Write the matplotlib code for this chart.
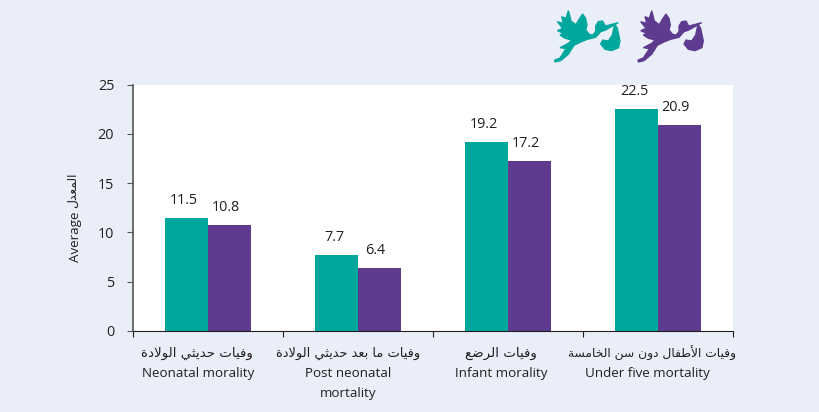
import matplotlib
matplotlib.use("Agg")
import matplotlib.pyplot as plt
import numpy as np
from matplotlib.patches import Polygon

categories_en = ["Neonatal morality", "Post neonatal\nmortality", "Infant morality", "Under five mortality"]
categories_ar = ["وفيات حديثي الولادة", "وفيات ما بعد حديثي الولادة", "وفيات الرضع", "وفيات الأطفال دون سن الخامسة"]
teal_values = [11.5, 7.7, 19.2, 22.5]
purple_values = [10.8, 6.4, 17.2, 20.9]
yticks = [0, 5, 10, 15, 20, 25]
ylabel_en = "Average"
ylabel_ar = "المعدل"

BG = "#E9EEF8"
TEAL = "#00A79D"
PURPLE = "#5F3B8F"
INK = "#231F20"
FONT = ["Open Sans", "DejaVu Sans"]

BASE = {"ء": 0xFE80, "أ": 0xFE83, "ا": 0xFE8D, "ب": 0xFE8F, "ة": 0xFE93, "ت": 0xFE95, "ث": 0xFE99,
        "ج": 0xFE9D, "ح": 0xFEA1, "خ": 0xFEA5, "د": 0xFEA9, "ذ": 0xFEAB, "ر": 0xFEAD, "ز": 0xFEAF,
        "س": 0xFEB1, "ش": 0xFEB5, "ص": 0xFEB9, "ض": 0xFEBD, "ط": 0xFEC1, "ظ": 0xFEC5, "ع": 0xFEC9,
        "غ": 0xFECD, "ف": 0xFED1, "ق": 0xFED5, "ك": 0xFED9, "ل": 0xFEDD, "م": 0xFEE1, "ن": 0xFEE5,
        "ه": 0xFEE9, "و": 0xFEED, "ى": 0xFEEF, "ي": 0xFEF1}
RIGHT_ONLY = set("أاةدذرزو")
LAM_ALEF = {"ا": 0xFEFB, "أ": 0xFEF7}


def shape_arabic(text):
    """Turn logical Arabic text into joined presentation forms in visual order."""
    out = []
    for word in text.split(" "):
        letters, i = [], 0
        while i < len(word):
            if word[i] == "ل" and i + 1 < len(word) and word[i + 1] in LAM_ALEF:
                letters.append(("ل" + word[i + 1]))
                i += 2
            else:
                letters.append(word[i])
                i += 1
        glyphs = []
        for k, ch in enumerate(letters):
            joins_prev = k > 0 and letters[k - 1][-1] not in RIGHT_ONLY
            if len(ch) == 2:
                glyphs.append(chr(LAM_ALEF[ch[1]] + (1 if joins_prev else 0)))
                continue
            joins_next = k + 1 < len(letters) and ch not in RIGHT_ONLY
            base = BASE[ch]
            if ch in RIGHT_ONLY:
                glyphs.append(chr(base + (1 if joins_prev else 0)))
            elif joins_prev and joins_next:
                glyphs.append(chr(base + 3))
            elif joins_next:
                glyphs.append(chr(base + 2))
            elif joins_prev:
                glyphs.append(chr(base + 1))
            else:
                glyphs.append(chr(base))
        out.append("".join(reversed(glyphs)))
    return " ".join(reversed(out))


W, H = 819, 412
PT = 0.72  # points per pixel at dpi 100
fig = plt.figure(figsize=(W / 100, H / 100), dpi=100, facecolor=BG)
ax = fig.add_axes([133 / W, 1 - 331 / H, 600 / W, 246.5 / H], facecolor="white")

x = np.arange(len(teal_values))
bw = 43 / 150
b1 = ax.bar(x - bw / 2, teal_values, bw, color=TEAL)
b2 = ax.bar(x + bw / 2, purple_values, bw, color=PURPLE)
for bars, shift in ((b1, -2.5), (b2, -4.0)):
    for ann in ax.bar_label(bars, fmt="%.1f", padding=7.2, fontsize=10.4, color=INK, family=FONT):
        ann.xyann = (shift * PT, ann.xyann[1])

ax.set_xlim(-0.5, 3.5)
ax.set_ylim(0, 25)
ax.set_yticks(yticks)
ax.set_xticks(np.arange(-0.5, 4, 1))
ax.set_xticklabels([])
ax.tick_params(axis="y", length=4.5, width=0.8, color="#555555", pad=9, labelsize=10.4, labelcolor=INK)
ax.tick_params(axis="x", length=4, width=0.8, color=INK)
for lab in ax.get_yticklabels():
    lab.set_family(FONT)
for s in ("top", "right"):
    ax.spines[s].set_visible(False)
ax.spines["left"].set_color("#555555")
ax.spines["left"].set_linewidth(1.2)
ax.spines["bottom"].set_color(INK)
ax.spines["bottom"].set_linewidth(0.8)

ar_shift_px = (-11, -10, -7, -6)
en_shift_px = (-10, -10, -7, -11)
ar_sizes = (9.6, 9.35, 9.6, 8.8)
for xi, ar, en, sa, se, fs in zip(x, categories_ar, categories_en, ar_shift_px, en_shift_px, ar_sizes):
    ax.annotate(shape_arabic(ar), (xi, 0), xycoords=("data", "axes fraction"), xytext=(sa * PT, -16.5),
                textcoords="offset points", ha="center", va="center", fontsize=fs,
                family="DejaVu Sans", color=INK)
    for j, line in enumerate(en.split("\n")):
        ax.annotate(line, (xi, 0), xycoords=("data", "axes fraction"), xytext=(se * PT, -30.9 - 14.4 * j),
                    textcoords="offset points", ha="center", va="center", fontsize=9.6,
                    family=FONT, color=INK)

fig.text(76 / W, 1 - 237 / H, ylabel_en, rotation=90, ha="center", va="center", fontsize=9.6,
         family=FONT, color=INK)
fig.text(73 / W, 1 - 190 / H, shape_arabic(ylabel_ar), rotation=90, ha="center", va="center",
         fontsize=8.8, family="DejaVu Sans", color=INK)

# Decorative stork emblem, traced in pixels of the 3x zoom crop
bird = [(85, 32), (90, 50), (93, 63), (108, 74), (117, 58), (128, 42), (137, 55), (141, 75), (137, 90),
        (148, 103), (158, 105), (167, 95), (167, 78), (175, 65), (188, 63), (196, 78), (235, 68), (197, 90),
        (182, 95), (167, 112), (142, 118), (122, 126), (102, 136), (85, 163), (62, 182), (45, 186), (44, 180),
        (60, 174), (78, 146), (60, 143), (85, 130), (95, 120), (75, 115), (60, 105), (70, 100), (52, 92),
        (68, 85), (52, 65), (70, 70), (65, 50), (78, 55)]
bag = [(224, 72), (232, 85), (240, 122), (236, 143), (215, 152), (195, 148), (182, 132), (188, 120),
       (205, 123), (217, 105)]
for dx, col in ((0, TEAL), (250, PURPLE)):
    for shape in (bird, bag):
        pts = [(540 + (px + dx) / 3, H - py / 3) for px, py in shape]
        fig.add_artist(Polygon(pts, closed=True, facecolor=col, edgecolor=col, lw=0.9, transform=None))

fig.savefig("out.png", dpi=100, facecolor=BG)
